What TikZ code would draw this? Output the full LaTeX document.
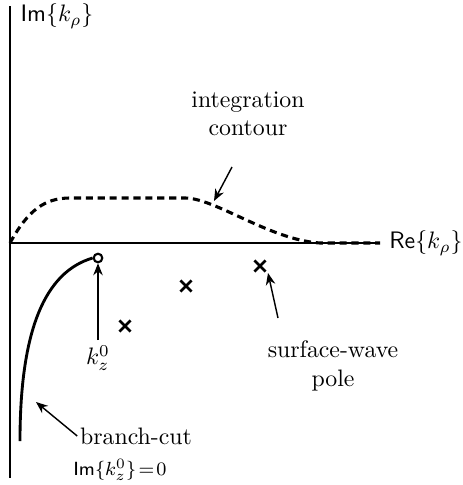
\documentclass[tikz,border=0pt]{standalone}
\usetikzlibrary{arrows.meta,shapes.misc}
\begin{document}
\begin{tikzpicture}[x=0.42pt,y=-0.42pt,
  axis/.style={line width=0.7pt},
  pointer/.style={line width=0.6pt,-{Stealth[length=5pt,width=4pt]}},
  contourline/.style={line width=1.3pt,dash pattern=on 3pt off 2pt},
  polemark/.style={cross out,draw,line width=1.1pt,minimum size=3.6pt,inner sep=0pt},
  lbl/.style={inner sep=1pt,align=center}]
\useasboundingbox (0,0) rectangle (463,485);
% axes
\coordinate (vt) at (10,6);
\coordinate (vb) at (10,478);
\coordinate (o) at (10,243);
\coordinate (hr) at (380,243);
\draw[axis] (vt) -- (vb);
\draw[axis] (o) -- (hr);
\node[lbl] (imk) at (57,16) {$\mathsf{Im}\{k_\rho\}$};
\node[inner sep=0pt,anchor=east] (rek) at (463,243) {$\mathsf{Re}\{k_\rho\}$};
% integration contour
\coordinate (c1) at (70,198);
\coordinate (c2) at (185,198);
\coordinate (c3) at (320,243);
\draw[contourline] (o) .. controls (28,210) and (45,198) .. (c1) -- (c2)
  .. controls (215,198) and (270,240) .. (c3) -- (hr);
\node[lbl] (intl) at (248,114) {integration\\contour};
\coordinate (intt) at (214,201);
\draw[pointer] (232,167) -- (intt);
% branch point and branch cut
\node[circle,draw,fill=white,line width=0.9pt,minimum size=3.6pt,inner sep=0pt] (bp) at (98,258) {};
\coordinate (bcb) at (20,441);
\draw[line width=1.2pt] (bcb) .. controls (20,330) and (45,272) .. (bp.west);
\node[lbl] (kz) at (98,358) {$k_z^0$};
\coordinate (kzt) at (98,340);
\draw[pointer] (kzt) -- (bp.south);
\coordinate (bct) at (36,402);
\node[lbl] (bcl) at (136,436) {branch-cut};
\node[lbl,font=\footnotesize] (bcc) at (120,470) {$\mathsf{Im}\{k_z^0\}\!=\!0$};
\draw[pointer] (bcl.west) -- (bct);
% poles
\node[polemark] (p1) at (125,326) {};
\node[polemark] (p2) at (186,286) {};
\node[polemark] (p3) at (260,266) {};
\node[lbl] (swl) at (333,366) {surface-wave\\pole};
\draw[pointer] (278,318) -- (268,273);
\end{tikzpicture}
\end{document}
